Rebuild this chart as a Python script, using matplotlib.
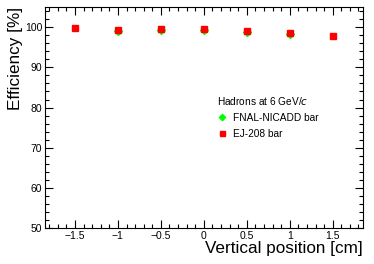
import numpy as np
import matplotlib.pyplot as plt
from matplotlib.ticker import MultipleLocator

plt.rcParams['font.family'] = ['Liberation Sans', 'DejaVu Sans']

# posicoes e eficiencias
pos_fnal = [-1.0, -0.5, 0.0, 0.5, 1.0]
eff_fnal = [99.1, 99.3, 99.2, 98.9, 98.2]
err_fnal = [0.4, 0.4, 0.4, 0.4, 0.4]

pos_ej = [-1.5, -1.0, -0.5, 0.0, 0.5, 1.0, 1.5]
eff_ej = [99.7, 99.4, 99.6, 99.5, 99.1, 98.5, 97.9]
err_ej = [0.3, 0.3, 0.3, 0.3, 0.3, 0.3, 0.3]

fig = plt.figure(figsize=(3.74, 2.64), dpi=100)
ax = fig.add_axes([0.12, 0.136, 0.85, 0.837])

ax.errorbar(pos_fnal, eff_fnal, yerr=err_fnal, fmt='none', ecolor='#00ff00',
            elinewidth=0.8, capsize=0)
ax.plot(pos_fnal, eff_fnal, 'D', color='#00ff00', ms=4, ls='none',
        label='FNAL-NICADD bar')
ax.errorbar(pos_ej, eff_ej, yerr=err_ej, fmt='none', ecolor='#ff0000',
            elinewidth=0.8, capsize=0)
ax.plot(pos_ej, eff_ej, 's', color='#ff0000', ms=4.5, ls='none',
        label='EJ-208 bar')

ax.set_xlim(-1.85, 1.85)
ax.set_ylim(50, 105)
ax.xaxis.set_major_locator(MultipleLocator(0.5))
ax.xaxis.set_minor_locator(MultipleLocator(0.1))
ax.yaxis.set_major_locator(MultipleLocator(10))
ax.yaxis.set_minor_locator(MultipleLocator(2))
ax.tick_params(which='both', direction='in', top=True, right=True,
               labelsize=7.5, width=0.8, pad=2)
ax.tick_params(which='major', length=6)
ax.tick_params(which='minor', length=3)
ax.set_xticks([-1.5, -1, -0.5, 0, 0.5, 1, 1.5])
ax.set_xticklabels(['\u22121.5', '\u22121', '\u22120.5', '0', '0.5', '1', '1.5'])
for s in ax.spines.values():
    s.set_linewidth(0.8)

ax.set_xlabel('Vertical position [cm]', fontsize=12.3, loc='right', labelpad=0)
ax.set_ylabel('Efficiency [%]', fontsize=12.3, loc='top', labelpad=1)

leg = ax.legend(loc='upper left', bbox_to_anchor=(0.512, 0.645), frameon=False,
                fontsize=7.3, title='Hadrons at 6 GeV/$c$', title_fontsize=7.3,
                handletextpad=0.6, handlelength=1.0, labelspacing=0.6,
                markerscale=0.8)
leg._legend_box.align = 'left'

fig.savefig('out.png', dpi=100)
